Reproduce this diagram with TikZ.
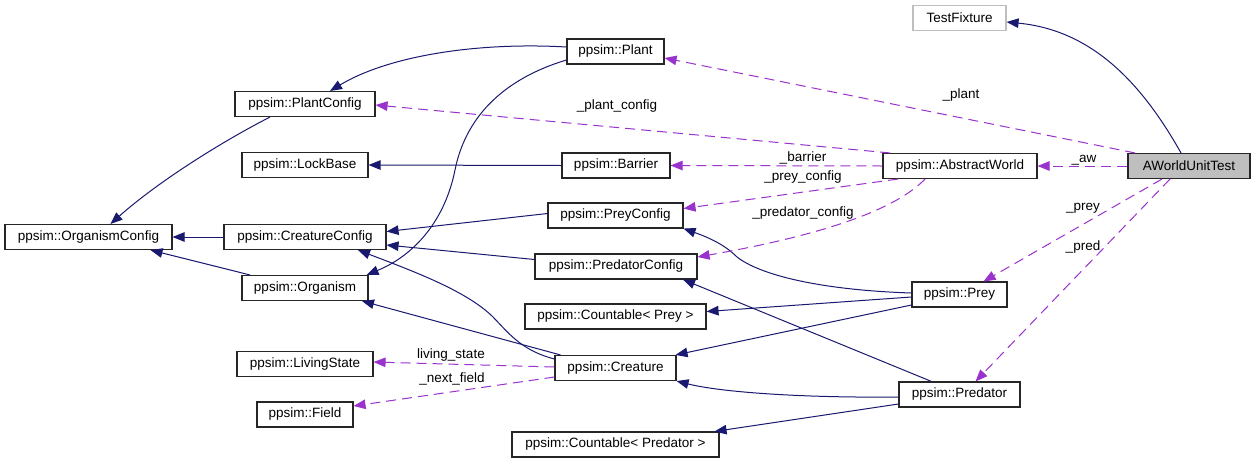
\documentclass[tikz,border=0pt]{standalone}
\usepackage{fontspec}
\setmainfont{Liberation Sans}
\usetikzlibrary{arrows.meta}
\definecolor{navyc}{HTML}{191970}
\definecolor{purpc}{HTML}{9A32CD}
\definecolor{grayc}{HTML}{BFBFBF}
\tikzset{
  box/.style={draw=black!85, line width=1.1pt, fill=white, minimum height=25pt, inner sep=0pt,
    font=\fontsize{13.5}{16}\selectfont},
  lbl/.style={inner sep=0pt, font=\fontsize{13.5}{16}\selectfont},
  inh/.style={draw=navyc, line width=1pt, -{Triangle[length=12pt,width=9.5pt]}},
  usage/.style={draw=purpc, line width=1pt, dash pattern=on 10pt off 6pt, -{Triangle[length=12pt,width=9.5pt]}}
}
\begin{document}
\begin{tikzpicture}[x=1pt,y=-1pt]
\fill[white] (0,0) rectangle (1256,464);
\useasboundingbox (0,0) rectangle (1256,464);
% nodes
\node[box, draw=grayc, minimum width=93pt] (tf) at (959.5,18) {TestFixture};
\node[box, minimum width=97pt] (plant) at (615.5,51.5) {ppsim::Plant};
\node[box, minimum width=140pt] (plantcfg) at (305,104) {ppsim::PlantConfig};
\node[box, minimum width=126pt] (lockbase) at (305,165) {ppsim::LockBase};
\node[box, minimum width=108pt] (barrier) at (616,165.5) {ppsim::Barrier};
\node[box, minimum width=154pt] (aworld) at (960,166) {ppsim::AbstractWorld};
\node[box, fill=grayc, minimum width=122pt] (awut) at (1189,166) {AWorldUnitTest};
\node[box, minimum width=167pt] (orgcfg) at (88.5,237) {ppsim::OrganismConfig};
\node[box, minimum width=162pt] (crecfg) at (305,237) {ppsim::CreatureConfig};
\node[box, minimum width=135pt] (preycfg) at (615.5,215.5) {ppsim::PreyConfig};
\node[box, minimum width=162pt] (predcfg) at (616,266.5) {ppsim::PredatorConfig};
\node[box, minimum width=126pt] (organism) at (305,288) {ppsim::Organism};
\node[box, minimum width=95pt] (prey) at (959.5,294.5) {ppsim::Prey};
\node[box, minimum width=181pt] (cntprey) at (615.5,316.5) {ppsim::Countable< Prey >};
\node[box, minimum width=136pt] (livstate) at (305,364) {ppsim::LivingState};
\node[box, minimum width=121pt] (creature) at (615.5,368) {ppsim::Creature};
\node[box, minimum width=121pt] (predator) at (959.5,394.5) {ppsim::Predator};
\node[box, minimum width=96pt] (field) at (305,414.5) {ppsim::Field};
\node[box, minimum width=207pt] (cntpred) at (615.5,444.5) {ppsim::Countable< Predator >};
% inheritance / solid edges
\draw[inh] ([xshift=-8pt]awut.north) .. controls (1140,80) and (1090,30) .. ([yshift=-4pt]tf.east);
\draw[inh] ([yshift=4.5pt]plant.west) .. controls (480,42) and (390,55) .. ([xshift=25pt]plantcfg.north);
\draw[inh] ([yshift=-8.5pt]plant.west) .. controls (500,80) and (465,120) .. (455,170) .. controls (445,220) and (415,255) .. ([xshift=-2pt]organism.north east);
\draw[inh] ([xshift=-35pt]plantcfg.south) .. controls (225,140) and (160,180) .. ([xshift=22pt]orgcfg.north);
\draw[inh] (barrier.west) -- (lockbase.east);
\draw[inh] (crecfg.west) -- (orgcfg.east);
\draw[inh] ([xshift=-55pt]organism.north) -- ([xshift=62pt]orgcfg.south);
\draw[inh] ([yshift=2pt]preycfg.west) -- ([yshift=5.5pt]crecfg.east);
\draw[inh] ([yshift=7pt]predcfg.west) -- ([yshift=-8pt]crecfg.east);
\draw[inh] ([yshift=9pt]creature.west) .. controls (520,350) and (508,332) .. (492,316) .. controls (465,290) and (410,270) .. ([xshift=53pt]crecfg.south);
\draw[inh] ([xshift=-55pt]creature.north) -- ([xshift=57pt]organism.south);
\draw[inh] ([yshift=1.5pt]prey.west) .. controls (820,290) and (760,275) .. (737,257) .. controls (725,245) and (710,238) .. (preycfg.south east);
\draw[inh] ([yshift=-2.5pt]prey.west) -- ([yshift=5pt]cntprey.east);
\draw[inh] ([yshift=-10.5pt]prey.west) -- ([xshift=-1pt]creature.north east);
\draw[inh] ([xshift=-28pt]predator.north) -- ([xshift=67pt]predcfg.south);
\draw[inh] ([yshift=-2.5pt]predator.west) .. controls (800,398) and (720,392) .. (creature.south east);
\draw[inh] ([yshift=-9.5pt]predator.west) -- ([xshift=-5pt]cntpred.north east);
% usage / dashed edges
\draw[usage] ([xshift=-54pt]awut.north) -- ([yshift=-6.5pt]plant.east);
\draw[usage] ([xshift=-70pt]aworld.north) -- ([yshift=-1pt]plantcfg.east);
\draw[usage] (aworld.west) -- (barrier.east);
\draw[usage] ([xshift=-62pt]aworld.south) -- ([yshift=7pt]preycfg.east);
\draw[usage] ([xshift=-35pt]aworld.south) .. controls (900,205) and (840,232) .. ([yshift=9.5pt]predcfg.east);
\draw[usage] (awut.west) -- (aworld.east);
\draw[usage] ([xshift=-27pt]awut.south) -- ([xshift=24pt]prey.north);
\draw[usage] ([xshift=-19pt]awut.south) -- ([xshift=16pt]predator.north);
\draw[usage] ([yshift=1pt]creature.west) -- ([yshift=2pt]livstate.east);
\draw[usage] ([yshift=-9pt]creature.west) -- ([yshift=8.5pt]field.east);
% labels
\node[lbl] (l1) at (961,95) {\_plant};
\node[lbl] (l2) at (617,106) {\_plant\_config};
\node[lbl] (l3) at (803,158) {\_barrier};
\node[lbl] (l4) at (803,177) {\_prey\_config};
\node[lbl] (l5) at (803,213) {\_predator\_config};
\node[lbl] (l6) at (1084,160) {\_aw};
\node[lbl] (l7) at (1083,208) {\_prey};
\node[lbl] (l8) at (1083,247) {\_pred};
\node[lbl] (l9) at (451,355) {living\_state};
\node[lbl] (l10) at (452,379) {\_next\_field};
\end{tikzpicture}
\end{document}
